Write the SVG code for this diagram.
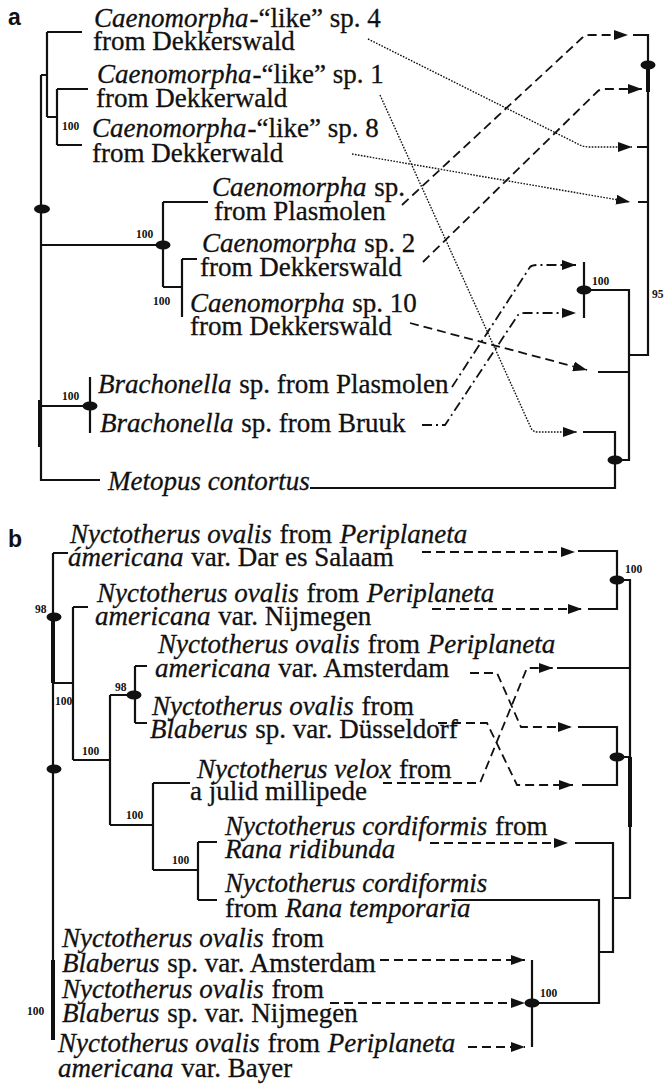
<svg xmlns="http://www.w3.org/2000/svg" width="665" height="1085" viewBox="0 0 665 1085">
<style>
.t{font-family:"Liberation Serif","Times New Roman",serif;font-size:27px;fill:#111;stroke:#111;stroke-width:0.3}
.i{font-style:italic}
.s{font-family:"Liberation Serif","Times New Roman",serif;font-size:11.5px;font-weight:bold;fill:#111}
.p{font-family:"Liberation Sans",Arial,sans-serif;font-size:23px;font-weight:bold;fill:#111}
.tr{fill:none;stroke:#111;stroke-width:2.2}
.th{fill:none;stroke:#111;stroke-width:4}
.da{fill:none;stroke:#111;stroke-width:1.8;stroke-dasharray:9 5}
.dt{fill:none;stroke:#111;stroke-width:1.4;stroke-dasharray:1.6 1.4}
.dd{fill:none;stroke:#111;stroke-width:1.8;stroke-dasharray:10 4 2 4}
.el{fill:#111}
</style>
<defs>
<marker id="ah" viewBox="0 0 14 10" refX="14" refY="5" markerWidth="14" markerHeight="10" markerUnits="userSpaceOnUse" orient="auto"><path d="M0,0 L14,5 L0,10 z" fill="#111"/></marker>
</defs>
<rect width="665" height="1085" fill="#fff"/>

<text class="p" x="8" y="25">a</text>
<text class="p" x="8" y="547">b</text>

<!-- part a left tree -->
<g id="a-left-tree">
<path class="tr" d="M41,75 V480 H100 M41,75 H47 M47,32 V117 M47,32 H82 M47,117 H57 M57,89 V145 M57,89 H88 M57,145 H82"/>
<path class="th" d="M40,400 V447"/>
<path class="tr" d="M41,245 H163 M163,202 V287 M163,202 H208 M163,287 H182 M182,259 V317 M182,259 H197"/>
<path class="tr" d="M41,406 H90 M90,377 V433"/>
<ellipse class="el" cx="42" cy="209" rx="8" ry="4.5"/>
<ellipse class="el" cx="163" cy="245" rx="7.5" ry="4.5"/>
<ellipse class="el" cx="90" cy="406" rx="7.5" ry="4.5"/>
<text class="s" x="62" y="130">100</text>
<text class="s" x="136" y="238">100</text>
<text class="s" x="153" y="305">100</text>
<text class="s" x="62" y="400">100</text>
</g>

<!-- part a right tree -->
<g id="a-right-tree">
<path class="tr" d="M633,35 H648 V355 H629 M637,147 H648 M638,202 H648"/>
<path class="th" d="M648,65 V92"/>
<path class="tr" d="M584,262 V318 M584,290 H629 V460 H615 M598,372 H629 M583,432 H615 V488 H310"/>
<ellipse class="el" cx="648" cy="65" rx="7.5" ry="4.5"/>
<ellipse class="el" cx="584" cy="290" rx="7.5" ry="4.5"/>
<ellipse class="el" cx="615" cy="460" rx="7.5" ry="4.5"/>
<text class="s" x="592" y="285">100</text>
<text class="s" x="652" y="298">95</text>
</g>

<!-- part a labels -->
<g id="a-sp4"><text class="t"><tspan x="94" y="27"><tspan class="i">Caenomorpha</tspan><tspan dx="1">-“like” sp. 4</tspan></tspan><tspan x="93" y="50">from Dekkerswald</tspan></text></g>
<g id="a-sp1"><text class="t"><tspan x="97" y="83"><tspan class="i">Caenomorpha</tspan><tspan dx="1">-“like” sp. 1</tspan></tspan><tspan x="96" y="107">from Dekkerwald</tspan></text></g>
<g id="a-sp8"><text class="t"><tspan x="92" y="137"><tspan class="i">Caenomorpha</tspan><tspan dx="1">-“like” sp. 8</tspan></tspan><tspan x="92" y="162">from Dekkerwald</tspan></text></g>
<g id="a-plasmolen"><text class="t"><tspan x="212" y="196"><tspan class="i">Caenomorpha</tspan><tspan dx="1"> sp.</tspan></tspan><tspan x="214" y="220">from Plasmolen</tspan></text></g>
<g id="a-sp2"><text class="t"><tspan x="202" y="252"><tspan class="i">Caenomorpha</tspan><tspan dx="1"> sp. 2</tspan></tspan><tspan x="200" y="276">from Dekkerswald</tspan></text></g>
<g id="a-sp10"><text class="t"><tspan x="190" y="312"><tspan class="i">Caenomorpha</tspan><tspan dx="1"> sp. 10</tspan></tspan><tspan x="190" y="335">from Dekkerswald</tspan></text></g>
<g id="a-brach-plasmolen"><text class="t" x="98" y="393"><tspan class="i">Brachonella</tspan><tspan dx="1"> sp. from Plasmolen</tspan></text></g>
<g id="a-brach-bruuk"><text class="t" x="100" y="432"><tspan class="i">Brachonella</tspan><tspan dx="1"> sp. from Bruuk</tspan></text></g>
<g id="a-metopus"><text class="t i" x="108" y="490">Metopus contortus</text></g>

<!-- part a connectors -->
<g id="a-connectors">
<path class="dt" d="M368,39 L578,144 Q583,147 590,147 H632" marker-end="url(#ah)"/>
<path class="dt" d="M380,95 L531,428 Q533,432 538,432 H577" marker-end="url(#ah)"/>
<path class="dt" d="M352,154 L630,202" marker-end="url(#ah)"/>
<path class="da" d="M402,205 L583,37 Q585,35 590,35 H628" marker-end="url(#ah)"/>
<path class="da" d="M423,262 L598,91 Q600,89 605,89 H642" marker-end="url(#ah)"/>
<path class="da" d="M410,323 L587,370" marker-end="url(#ah)"/>
<path class="dd" d="M452,387 L530,267 Q532,265 537,265 H576" marker-end="url(#ah)"/>
<path class="dd" d="M422,425 H445 L518,315 Q520,313 525,313 H576" marker-end="url(#ah)"/>
</g>

<!-- part b left tree -->
<g id="b-left-tree">
<path class="tr" d="M53,553 V1040 M53,553 H68 M53,683 H73 M73,607 V760 M73,607 H88 M73,760 H110 M110,695 V825 M110,695 H133 M135,666 V723 M135,666 H147 M135,723 H147 M110,825 H153 M153,783 V870 M153,783 H190 M153,870 H198 M198,842 V900 M198,842 H217 M198,900 H217"/>
<path class="th" d="M53,617 V683 M53,960 V1040"/>
<ellipse class="el" cx="54" cy="617" rx="7.5" ry="4.5"/>
<ellipse class="el" cx="54" cy="769" rx="7.5" ry="4.5"/>
<ellipse class="el" cx="134" cy="695" rx="7.5" ry="4.5"/>
<text class="s" x="35" y="613">98</text>
<text class="s" x="55" y="705" font-size="10">100</text>
<text class="s" x="82" y="755">100</text>
<text class="s" x="115" y="691">98</text>
<text class="s" x="126" y="819">100</text>
<text class="s" x="172" y="864">100</text>
<text class="s" x="27" y="1015">100</text>
</g>

<!-- part b labels -->
<g id="b-dar"><text class="t"><tspan x="70" y="543"><tspan class="i">Nyctotherus ovalis</tspan><tspan dx="1"> from </tspan><tspan class="i" dx="1">Periplaneta</tspan></tspan><tspan x="68" y="566"><tspan class="i">ámericana</tspan><tspan dx="1"> var. Dar es Salaam</tspan></tspan></text></g>
<g id="b-nijmegen-p"><text class="t"><tspan x="97" y="602"><tspan class="i">Nyctotherus ovalis</tspan><tspan dx="1"> from </tspan><tspan class="i" dx="1">Periplaneta</tspan></tspan><tspan x="95" y="625"><tspan class="i">americana</tspan><tspan dx="1"> var. Nijmegen</tspan></tspan></text></g>
<g id="b-amsterdam-p"><text class="t"><tspan x="158" y="653"><tspan class="i">Nyctotherus ovalis</tspan><tspan dx="1"> from </tspan><tspan class="i" dx="1">Periplaneta</tspan></tspan><tspan x="155" y="677"><tspan class="i">americana</tspan><tspan dx="1"> var. Amsterdam</tspan></tspan></text></g>
<g id="b-dusseldorf"><text class="t"><tspan x="152" y="715"><tspan class="i">Nyctotherus ovalis</tspan><tspan dx="1"> from</tspan></tspan><tspan x="150" y="738"><tspan class="i">Blaberus</tspan><tspan dx="1"> sp. var. Düsseldorf</tspan></tspan></text></g>
<g id="b-velox"><text class="t"><tspan x="197" y="778"><tspan class="i">Nyctotherus velox</tspan><tspan dx="1"> from</tspan></tspan><tspan x="190" y="800">a julid millipede</tspan></text></g>
<g id="b-ridibunda"><text class="t"><tspan x="225" y="835"><tspan class="i">Nyctotherus cordiformis</tspan><tspan dx="1"> from</tspan></tspan><tspan class="i" x="225" y="858">Rana ridibunda</tspan></text></g>
<g id="b-temporaria"><text class="t"><tspan class="i" x="225" y="892">Nyctotherus cordiformis</tspan><tspan x="225" y="917">from <tspan class="i" dx="1">Rana temporaria</tspan></tspan></text></g>
<g id="b-amsterdam-b"><text class="t"><tspan x="62" y="947"><tspan class="i">Nyctotherus ovalis</tspan><tspan dx="1"> from</tspan></tspan><tspan x="62" y="972"><tspan class="i">Blaberus</tspan><tspan dx="1"> sp. var. Amsterdam</tspan></tspan></text></g>
<g id="b-nijmegen-b"><text class="t"><tspan x="62" y="998"><tspan class="i">Nyctotherus ovalis</tspan><tspan dx="1"> from</tspan></tspan><tspan x="62" y="1022"><tspan class="i">Blaberus</tspan><tspan dx="1"> sp. var. Nijmegen</tspan></tspan></text></g>
<g id="b-bayer"><text class="t"><tspan x="58" y="1052"><tspan class="i">Nyctotherus ovalis</tspan><tspan dx="1"> from </tspan><tspan class="i" dx="1">Periplaneta</tspan></tspan><tspan x="58" y="1077"><tspan class="i">americana</tspan><tspan dx="1"> var. Bayer</tspan></tspan></text></g>

<!-- part b right tree -->
<g id="b-right-tree">
<path class="tr" d="M578,551 H617 V609 H588 M617,580 H630 V898 H613 M557,668 H630 M578,727 H617 V785 H582 M617,757 H630 M575,843 H613 V952 H600 M452,900 H599 V1003 H532 M532,960 V1047"/>
<path class="th" d="M630,757 V827"/>
<ellipse class="el" cx="617" cy="580" rx="7.5" ry="4.5"/>
<ellipse class="el" cx="617" cy="757" rx="7.5" ry="4.5"/>
<ellipse class="el" cx="532" cy="1003" rx="7.5" ry="4.5"/>
<text class="s" x="625" y="573">100</text>
<text class="s" x="540" y="997">100</text>
</g>

<!-- part b connectors -->
<g id="b-connectors">
<path class="da" d="M422,552 H575" marker-end="url(#ah)"/>
<path class="da" d="M432,609 H582" marker-end="url(#ah)"/>
<path class="da" d="M470,673 H497 L521,727 H572" marker-end="url(#ah)"/>
<path class="da" d="M438,723 H487 L517,785 H573" marker-end="url(#ah)"/>
<path class="da" d="M383,783 H480 L527,668 H553" marker-end="url(#ah)"/>
<path class="da" d="M430,843 H568" marker-end="url(#ah)"/>
<path class="da" d="M380,960 H525" marker-end="url(#ah)"/>
<path class="da" d="M330,1003 H525" marker-end="url(#ah)"/>
<path class="da" d="M468,1047 H525" marker-end="url(#ah)"/>
</g>
</svg>
